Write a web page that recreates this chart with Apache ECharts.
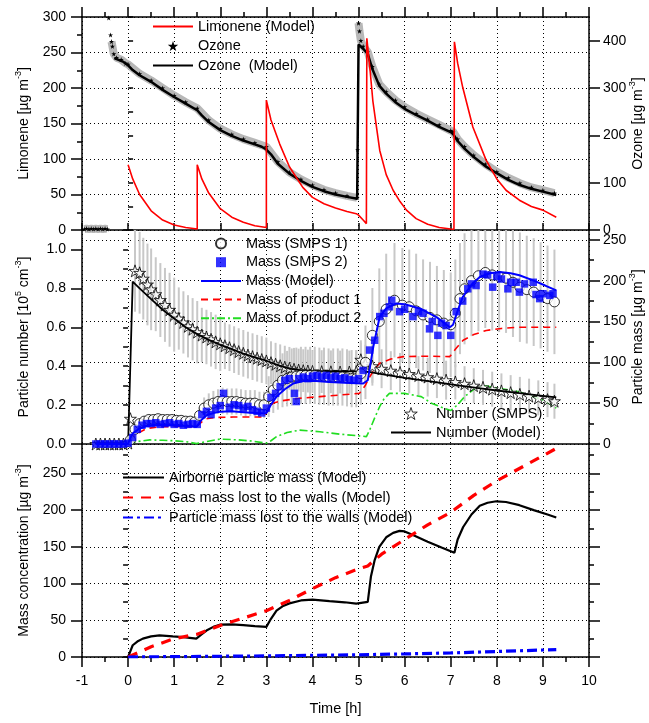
<!DOCTYPE html>
<html>
<head>
<meta charset="utf-8">
<script src="https://cdn.jsdelivr.net/npm/echarts@6/dist/echarts.min.js"></script>
<style>html,body{margin:0;padding:0;background:#fff}#c{width:649px;height:723px}</style>
</head>
<body>
<div id="c"></div>
<script>
// ---------------- DATA ----------------
const xTicks = [-1,0,1,2,3,4,5,6,7,8,9,10];

// Panel 1 : limonene model (µg m-3, left axis)
const limoneneModel = [
[0,92],[0.1,72],[0.25,50],[0.5,27],[0.75,14],[1.0,7],[1.25,3.5],[1.5,1.5],
[1.5,92],[1.6,72],[1.75,52],[2.0,30],[2.25,18],[2.5,11],[2.75,6],[3.0,3.5],
[3.0,183],[3.1,155],[3.29,121],[3.5,89],[3.79,60],[4.0,46],[4.25,37],[4.5,31],[4.75,26],[4.95,23],[5.0,21],[5.1,14],[5.17,9],
[5.18,270],[5.25,225],[5.31,182],[5.4,140],[5.46,112],[5.6,78],[5.75,56],[5.9,40],[6.04,28],[6.25,16],[6.5,8],[6.75,3.5],[7.0,1.5],[7.07,1],
[7.08,265],[7.15,235],[7.26,201],[7.48,145],[7.77,98],[8.0,72],[8.2,56],[8.49,42],[8.75,33],[9.0,28],[9.29,18]
];
// Panel 1 : ozone model (µg m-3, right axis)
const ozoneModel = [
[-0.3,363],[-0.1,355],[0,348],[0.1,338],[0.25,327],[0.5,313],[0.75,296],[1.0,281],[1.25,267],[1.5,253],
[1.6,242],[1.75,228],[2.0,211],[2.25,199],[2.5,189],[2.75,181],[2.9,176],[3.0,170],[3.1,160],[3.25,140],[3.5,119],
[3.75,104],[4.0,91],[4.25,82],[4.5,75],[4.75,70],[4.97,66],[5.0,392],[5.1,383],[5.2,372],[5.3,340],[5.45,305],
[5.6,288],[5.8,270],[6.0,256],[6.25,243],[6.5,231],[6.75,218],[7.0,207],[7.05,203],[7.15,188],[7.3,172],[7.5,154],
[7.75,135],[8.0,120],[8.25,106],[8.5,95],[8.75,87],[9.0,81],[9.29,74]
];
// Panel 1 : ozone measurements (segments)
const ozoneMeasPre = [[-0.95,2],[-0.9,3],[-0.85,2],[-0.8,3],[-0.75,2],[-0.7,3],[-0.65,2],[-0.6,3],[-0.55,2],[-0.5,3],[-0.45,2]];
const ozoneMeasStart = [[-0.42,448],[-0.38,412]];
const ozoneMeasA = [[-0.36,398],[-0.34,388],[-0.31,372],[-0.25,364],[-0.15,360],[-0.05,352],[0,350],
[0.25,330],[0.5,316],[0.75,300],[1.0,284],[1.25,270],[1.5,257],[1.75,232],[2.0,214],[2.25,202],[2.5,192],[2.75,184],
[3.0,176],[3.25,144],[3.5,122],[3.75,107],[4.0,95],[4.25,85],[4.5,78],[4.75,72],[4.97,68]];
const ozoneMeasJump = [[4.98,170]];
const ozoneMeasB = [[5.0,437],[5.02,420],[5.05,400],[5.1,388],[5.2,376],[5.3,345],[5.45,308],[5.6,292],[5.8,274],[6.0,260],
[6.25,246],[6.5,234],[6.75,222],[7.0,210],[7.05,208],[7.15,192],[7.3,176],[7.5,158],[7.75,139],[8.0,123],[8.25,110],
[8.5,99],[8.75,90],[9.0,84],[9.25,78]];

// Panel 2 : particle number (10^5 cm-3): [time, value, error half-width]
const numberSMPS = [
[-0.7,0,0],[-0.6,0,0],[-0.5,0,0],[-0.4,0,0],[-0.3,0,0],[-0.2,0,0],[-0.1,0,0],[0,0.005,0],[0.05,0.13,0],
[0.15,0.89,0.21],[0.25,0.88,0.21],[0.33,0.85,0.21],[0.42,0.82,0.21],[0.5,0.795,0.21],[0.6,0.77,0.19],[0.7,0.74,0.19],
[0.8,0.715,0.19],[0.9,0.69,0.19],[1.0,0.665,0.19],[1.1,0.645,0.16],[1.2,0.625,0.16],[1.3,0.605,0.16],[1.4,0.59,0.16],
[1.5,0.575,0.16],[1.6,0.56,0.14],[1.7,0.55,0.14],[1.8,0.538,0.14],[1.9,0.525,0.14],[2.0,0.515,0.14],[2.1,0.505,0.12],
[2.2,0.495,0.12],[2.3,0.485,0.12],[2.4,0.475,0.12],[2.5,0.466,0.12],[2.6,0.457,0.12],[2.7,0.449,0.12],[2.8,0.441,0.12],
[2.9,0.434,0.12],[3.0,0.427,0.12],[3.1,0.418,0.11],[3.2,0.41,0.11],[3.3,0.402,0.11],[3.4,0.395,0.11],[3.5,0.389,0.11],
[3.6,0.384,0.11],[3.7,0.38,0.11],[3.8,0.377,0.11],[3.9,0.375,0.11],[4.0,0.373,0.11],[4.2,0.372,0.11],[4.4,0.371,0.11],
[4.6,0.37,0.11],[4.8,0.37,0.11],[4.95,0.372,0.11],[5.05,0.433,0.1],[5.15,0.41,0.1],[5.3,0.4,0.1],[5.5,0.387,0.1],
[5.7,0.377,0.1],[5.9,0.368,0.1],[6.1,0.36,0.1],[6.3,0.352,0.1],[6.5,0.344,0.1],[6.7,0.336,0.1],[6.9,0.328,0.1],
[7.1,0.319,0.09],[7.3,0.31,0.09],[7.5,0.3,0.09],[7.7,0.291,0.09],[7.9,0.282,0.09],[8.1,0.273,0.09],[8.3,0.264,0.09],
[8.5,0.255,0.09],[8.7,0.246,0.09],[8.9,0.237,0.09],[9.1,0.228,0.09],[9.25,0.22,0.09]
];
const numberModel = [
[-0.7,0],[0,0],[0.1,0.835],[0.25,0.8],[0.5,0.745],[0.75,0.69],[1.0,0.645],[1.25,0.6],[1.5,0.565],[1.75,0.535],
[2.0,0.51],[2.25,0.488],[2.5,0.465],[2.75,0.445],[3.0,0.428],[3.25,0.405],[3.5,0.388],[3.75,0.378],[4.0,0.375],
[4.5,0.374],[5.0,0.373],[5.25,0.37],[5.6,0.355],[6.0,0.34],[6.4,0.327],[6.83,0.313],[7.2,0.3],[7.6,0.287],
[8.0,0.275],[8.49,0.261],[8.9,0.25],[9.29,0.24]
];
// Panel 2 : particle mass (µg m-3): SMPS 1 [time, value, error half-width]
const massSMPS1 = [
[0.05,5,2],[0.15,18,4],[0.25,25,5],[0.35,28,6],[0.45,30,6],[0.55,30,6],[0.65,31,6],[0.75,30,6],[0.85,30,6],[0.95,30,6],
[1.05,29,6],[1.15,29,6],[1.25,28,6],[1.35,28,6],[1.45,27,6],[1.55,35,10],[1.65,44,13],[1.75,48,14],[1.85,50,15],
[1.95,52,15],[2.05,53,16],[2.15,52,16],[2.25,52,16],[2.35,52,16],[2.45,51,16],[2.55,50,16],[2.65,50,16],[2.75,50,16],
[2.85,48,16],[2.95,48,16],[3.05,58,25],[3.15,66,28],[3.25,72,30],[3.35,78,33],[3.45,80,34],[3.55,82,35],[3.65,83,35],
[3.75,84,35],[3.85,84,35],[3.95,84,35],[4.05,84,35],[4.15,83,35],[4.25,83,35],[4.35,82,35],[4.45,82,35],[4.55,82,35],
[4.65,82,35],[4.75,81,35],[4.85,80,35],[4.95,80,35],[5.05,86,38],[5.15,100,45],[5.3,133,58],[5.45,150,65],[5.6,165,68],
[5.78,176,70],[5.95,170,70],[6.1,168,70],[6.25,163,70],[6.4,158,68],[6.55,155,68],[6.7,152,66],[6.85,148,65],
[7.0,146,64],[7.1,160,66],[7.2,178,68],[7.3,190,68],[7.45,200,68],[7.6,206,68],[7.75,210,68],[7.9,207,68],
[8.05,205,68],[8.2,203,67],[8.35,198,67],[8.5,192,67],[8.65,189,66],[8.8,186,66],[8.95,182,65],[9.1,178,65],[9.25,174,64]
];
const massSMPS2 = [
[-0.7,0],[-0.6,0],[-0.5,0],[-0.4,0],[-0.3,0],[-0.2,0],[-0.1,0],[0,1],
[0.1,8],[0.2,18],[0.3,23],[0.4,25],[0.5,25],[0.6,26],[0.7,24],[0.8,25],[0.9,26],[1.0,24],[1.1,25],[1.2,23],[1.3,24],[1.4,25],[1.5,24],
[1.6,36],[1.7,40],[1.8,36],[1.9,44],[2.0,47],[2.07,62],[2.2,45],[2.3,48],[2.4,47],[2.5,44],[2.6,46],[2.7,42],[2.8,40],[2.9,38],[3.0,44],
[3.1,57],[3.2,62],[3.3,70],[3.4,78],[3.5,80],[3.61,62],[3.65,52],[3.7,80],[3.8,82],[3.9,80],[4.0,83],[4.1,84],[4.2,82],[4.3,84],
[4.4,81],[4.5,83],[4.6,80],[4.7,81],[4.8,79],[4.9,78],[5.0,80],
[5.1,90],[5.24,115],[5.35,127],[5.46,156],[5.55,160],[5.67,168],[5.72,176],[5.89,162],[6.0,165],[6.18,156],[6.3,162],[6.4,160],
[6.54,141],[6.6,150],[6.72,133],[6.8,148],[6.9,145],[7.0,133],
[7.12,162],[7.26,175],[7.37,190],[7.45,196],[7.55,194],[7.7,208],[7.8,207],[7.91,192],[8.0,205],[8.1,202],[8.24,190],[8.3,198],
[8.42,198],[8.49,186],[8.6,196],[8.79,198],[8.85,183],[8.93,178],[9.0,184],[9.15,182],[9.22,184]
];
const massModel = [
[-0.7,0],[0,0],[0.03,5],[0.1,13],[0.25,19],[0.4,22],[0.54,23],[0.8,23.5],[1.0,23],[1.25,22],[1.48,21],
[1.6,30],[1.7,35],[1.85,38],[1.99,39.5],[2.25,40],[2.5,39],[2.85,37.5],[3.0,38],[3.1,48],[3.22,58],[3.4,67],
[3.58,74],[3.8,77],[4.0,77.5],[4.37,76],[4.7,75],[5.1,74],[5.2,78],[5.32,119],[5.46,156],[5.6,166],[5.82,172],
[6.0,171],[6.33,166],[6.7,155],[6.98,143],[7.05,146],[7.15,163],[7.26,180],[7.45,195],[7.63,204.5],[7.85,209],
[8.06,210.6],[8.3,209],[8.49,206.6],[8.8,200],[9.05,194],[9.29,188]
];
const massProduct1 = [
[-0.7,0],[0,0],[0.03,4],[0.15,11],[0.4,19],[0.7,21],[1.0,21.5],[1.48,21],[1.6,27],[1.7,31],[1.9,32.5],[2.28,33],
[2.6,33],[2.93,33],[3.05,42],[3.14,50],[3.35,53],[3.72,56],[4.16,58],[4.6,60],[5.02,62],[5.15,72],[5.24,82],[5.35,92],
[5.46,99],[5.7,104],[5.97,107],[6.5,107.5],[6.98,107],[7.1,116],[7.27,127],[7.5,134],[7.77,139],[8.1,141.5],[8.49,143],[9.29,143]
];
const massProduct2 = [
[-0.7,0],[0,0],[0.2,3],[0.47,5],[0.75,4.5],[1.0,4],[1.3,2.5],[1.48,0.5],[1.7,3],[1.99,6],[2.4,5],[2.7,3.5],[3.0,1],
[3.1,4],[3.22,9],[3.45,14],[3.72,17],[4.16,15],[4.6,12],[5.0,10],[5.17,9],[5.24,17],[5.35,32],[5.46,46],[5.55,55],
[5.67,62],[5.85,62],[6.0,62],[6.36,58],[6.58,50],[6.8,45],[7.0,41],[7.15,48],[7.3,58],[7.55,69],[7.77,71],[8.06,68],
[8.4,65],[8.64,61],[9.0,54],[9.29,44]
];

// Panel 3 : mass concentrations (µg m-3)
const airborneMass = [
[0,0],[0.05,8],[0.1,16],[0.2,21],[0.32,25],[0.5,28],[0.68,29.5],[0.97,28],[1.2,27],[1.48,25],[1.6,31],[1.7,36],
[1.85,41],[1.99,44],[2.25,44.5],[2.5,43.5],[2.75,42],[3.0,41],[3.1,52],[3.22,63],[3.35,69],[3.5,73],[3.75,77],
[4.0,78],[4.37,76],[4.7,74.5],[4.95,72.7],[5.2,75],[5.27,110],[5.35,132],[5.45,150],[5.6,163],[5.75,169],[5.89,171.7],
[6.0,171],[6.18,166],[6.5,157],[6.8,149],[7.08,142],[7.15,160],[7.27,177],[7.45,194],[7.63,206],[7.8,210],[7.99,212],
[8.2,211],[8.49,206.7],[8.8,200],[9.1,194],[9.29,190]
];
const gasWallLoss = [
[0,0],[0.5,14],[1.0,25],[1.5,31],[2.0,43],[2.5,53],[3.0,63],[3.5,77],[4.0,93],[4.5,108],[5.0,120],[5.2,124],
[5.5,140],[6.0,160],[6.5,180],[7.0,197],[7.5,220],[8.0,240],[8.5,257],[9.0,274],[9.29,284]
];
const particleWallLoss = [
[0,0],[1,0.5],[2,1],[3,1.5],[4,2.3],[5,3],[6,4.2],[7,5.5],[8,7.5],[9,9.5],[9.29,10]
];

// ---------------- CHART ----------------
const FONT = 'Liberation Sans, Arial, Helvetica, sans-serif';
const STAR = 'path://M50,2 L61.8,38 L99,38 L69,60 L80.5,96 L50,74 L19.5,96 L31,60 L1,38 L38.2,38 Z';
const SQUARE = 'path://M0,0 L10,0 L10,10 L0,10 Z';
const BLACK = '#000';
const dotted = {show:true, lineStyle:{color:BLACK, type:[1,3], width:1}};
const axLine = {show:true, onZero:false, lineStyle:{color:BLACK, width:1.5}};
const richName = {
  n:{fontSize:14, fontFamily:FONT, color:BLACK, lineHeight:17, verticalAlign:'bottom'},
  s:{fontSize:9, fontFamily:FONT, color:BLACK, lineHeight:9, verticalAlign:'top'}
};
function nameStyle(){ return {fontSize:14, fontFamily:FONT, color:BLACK, rich:richName}; }
const lbl = {color:BLACK, fontSize:14, fontFamily:FONT};
const noSym = {color:'rgba(0,0,0,0)', borderWidth:0, opacity:0};
function lineItem(name){ return {name:name, itemStyle:noSym}; }
const legendText = {fontSize:14.5, color:BLACK, fontFamily:FONT};

function xAx(grid, opts){
  return Object.assign({type:'value', gridIndex:grid, min:-1, max:10, interval:1,
    axisLine:axLine, axisTick:{show:false}, axisLabel:{show:false}, splitLine:{show:false}}, opts);
}
function yAx(grid, pos, min, max, interval, opts){
  return Object.assign({type:'value', gridIndex:grid, position:pos, min:min, max:max, interval:interval,
    axisLine:axLine, axisTick:{show:true, inside:false, length:11, lineStyle:{color:BLACK, width:1.5}},
    axisLabel:{show:false}, splitLine:{show:false}, nameMoveOverlap:false}, opts);
}
function minorY(grid, pos, max, interval){
  return yAx(grid, pos, 0, max, interval, {axisLine:{show:false}, axisTick:{show:true, length:5, lineStyle:{color:BLACK, width:1.5}}});
}
const lblL = Object.assign({show:true, margin:16}, lbl);
const lblR = Object.assign({show:true, margin:14, showMaxLabel:false}, lbl);

const errRender = function(color){
  return function(params, api){
    const a = api.coord([api.value(0), api.value(1)]);
    const b = api.coord([api.value(0), api.value(2)]);
    return {type:'line', shape:{x1:a[0], y1:a[1], x2:b[0], y2:b[1]}, style:{stroke:color, lineWidth:2}};
  };
};
const gap = [['-','-']];
const ozoneMeas = ozoneMeasPre.concat(gap, ozoneMeasStart.slice(0,1), gap, ozoneMeasStart.slice(1), gap, ozoneMeasA, gap, ozoneMeasJump, gap, ozoneMeasB);

const gridBase = {left:82, right:60, outerBoundsMode:'none', containLabel:false};
const option = {
  animation:false,
  backgroundColor:'#fff',
  textStyle:{fontFamily:FONT},
  grid:[
    Object.assign({top:17, height:213}, gridBase),
    Object.assign({top:230, height:214}, gridBase),
    Object.assign({top:444, height:213}, gridBase)
  ],
  legend:[
    {left:152, top:19, padding:0, orient:'vertical', itemWidth:40, itemHeight:10, itemGap:4.5, selectedMode:false,
     textStyle:legendText,
     data:[lineItem('Limonene (Model)'), {name:'Ozone', icon:STAR}, lineItem('Ozone  (Model)')]},
    {left:200, top:236, padding:0, orient:'vertical', itemWidth:40, itemHeight:10, itemGap:3.7, selectedMode:false,
     textStyle:legendText,
     data:['Mass (SMPS 1)', {name:'Mass (SMPS 2)', icon:SQUARE}, lineItem('Mass (Model)'), lineItem('Mass of product 1'), lineItem('Mass of product 2')]},
    {left:390, top:406, padding:0, orient:'vertical', itemWidth:40, itemHeight:12, itemGap:4, selectedMode:false,
     textStyle:legendText,
     data:[{name:'Number (SMPS)', icon:STAR, itemStyle:{color:'#fff', borderColor:BLACK, borderWidth:1}}, lineItem('Number (Model)')]},
    {left:122, top:470, padding:0, orient:'vertical', itemWidth:41, itemHeight:10, itemGap:5, selectedMode:false,
     textStyle:legendText,
     data:[lineItem('Airborne particle mass (Model)'), lineItem('Gas mass lost to the walls (Model)'), lineItem('Particle mass lost to the walls (Model)')]}
  ],
  xAxis:[
    xAx(0, {position:'bottom', axisTick:{show:true, inside:true, length:7, lineStyle:{color:BLACK, width:1.5}}, splitLine:dotted}),
    xAx(0, {position:'top', axisTick:{show:true, length:10, lineStyle:{color:BLACK, width:1.5}},
            minorTick:{show:true, splitNumber:2, length:5, lineStyle:{color:BLACK, width:1.5}}}),
    xAx(1, {position:'bottom', splitLine:dotted}),
    xAx(2, {position:'bottom', splitLine:dotted, nameMoveOverlap:false,
            axisTick:{show:true, length:10, lineStyle:{color:BLACK, width:1.5}},
            minorTick:{show:true, splitNumber:2, length:5, lineStyle:{color:BLACK, width:1.5}},
            axisLabel:Object.assign({show:true, margin:17}, lbl),
            name:'Time [h]', nameLocation:'middle', nameGap:44, nameTextStyle:{fontSize:14.5, color:BLACK, fontFamily:FONT}})
  ],
  yAxis:[
    yAx(0,'left',0,300,50,{axisLabel:lblL, splitLine:dotted,
      minorTick:{show:true, splitNumber:2, length:5, lineStyle:{color:BLACK, width:1.5}},
      name:'{n|Limonene [µg m}{s|-3}{n|]}', nameLocation:'middle', nameGap:51, nameTextStyle:nameStyle()}),
    yAx(0,'right',0,450,100,{axisLabel:lblR,
      name:'{n|Ozone [µg m}{s|-3}{n|]}', nameLocation:'middle', nameGap:39, nameTextStyle:nameStyle()}),
    minorY(0,'right',450,50),
    yAx(1,'left',0,1.1,0.2,{axisLabel:Object.assign({}, lblL, {showMaxLabel:false,
      formatter:function(v){return v.toFixed(1);}}),
      name:'{n|Particle number [10}{s|5}{n| cm}{s|-3}{n|]}', nameLocation:'middle', nameGap:51, nameTextStyle:nameStyle()}),
    minorY(1,'left',1.1,0.1),
    yAx(1,'right',0,262,50,{axisLabel:lblR, splitLine:dotted,
      name:'{n|Particle mass [µg m}{s|-3}{n|]}', nameLocation:'middle', nameGap:39, nameTextStyle:nameStyle()}),
    minorY(1,'right',262,25),
    yAx(2,'left',0,290,50,{axisLabel:Object.assign({}, lblL, {showMaxLabel:false}), splitLine:dotted,
      name:'{n|Mass concentration [µg m}{s|-3}{n|]}', nameLocation:'middle', nameGap:51, nameTextStyle:nameStyle()}),
    minorY(2,'left',290,25),
    yAx(2,'right',0,290,50,{}),
    minorY(2,'right',290,25)
  ],
  series:[
    // ---- panel 1
    {name:'Ozone', type:'line', xAxisIndex:0, yAxisIndex:1, data:ozoneMeas, connectNulls:false,
     color:BLACK, lineStyle:{color:'#b8b8b8', width:8}, symbol:STAR, symbolSize:5, showSymbol:true,
     itemStyle:{color:BLACK}, z:2},
    {name:'Ozone  (Model)', type:'line', xAxisIndex:0, yAxisIndex:1, data:ozoneModel, symbol:'none',
     color:BLACK, lineStyle:{color:BLACK, width:2.5}, z:3},
    {name:'Limonene (Model)', type:'line', xAxisIndex:0, yAxisIndex:0, data:limoneneModel, symbol:'none',
     color:'#ff0000', lineStyle:{color:'#ff0000', width:1.6}, z:4},
    // ---- panel 2
    {name:'errMass', type:'custom', xAxisIndex:2, yAxisIndex:5, clip:true, silent:true, z:1,
     data:massSMPS1.map(function(p){return [p[0], p[1]-p[2], p[1]+p[2]];}), renderItem:errRender('#c8c8c8')},
    {name:'errNum', type:'custom', xAxisIndex:2, yAxisIndex:3, clip:true, silent:true, z:1,
     data:numberSMPS.filter(function(p){return p[2]>0;}).map(function(p){return [p[0], p[1]-p[2], p[1]+p[2]];}),
     renderItem:errRender('#c8c8c8')},
    {name:'Mass of product 2', type:'line', xAxisIndex:2, yAxisIndex:5, data:massProduct2, symbol:'none',
     color:'#22dd22', lineStyle:{color:'#22dd22', width:1.6, type:[8,3,2,3]}, z:3},
    {name:'Mass of product 1', type:'line', xAxisIndex:2, yAxisIndex:5, data:massProduct1, symbol:'none',
     color:'#ff0000', lineStyle:{color:'#ff0000', width:1.6, type:[7,5]}, z:3},
    {name:'Number (SMPS)', type:'scatter', xAxisIndex:2, yAxisIndex:3, data:numberSMPS, encode:{x:0, y:1},
     symbol:STAR, symbolSize:12, itemStyle:{color:'#fff', borderColor:BLACK, borderWidth:1}, z:4},
    {name:'Number (Model)', type:'line', xAxisIndex:2, yAxisIndex:3, data:numberModel, symbol:'none',
     color:BLACK, lineStyle:{color:BLACK, width:1.8}, z:5},
    {name:'Mass (SMPS 1)', type:'scatter', xAxisIndex:2, yAxisIndex:5, data:massSMPS1, encode:{x:0, y:1},
     symbol:'circle', symbolSize:10, itemStyle:{color:'#fff', borderColor:BLACK, borderWidth:1}, z:5},
    {name:'Mass (SMPS 2)', type:'scatter', xAxisIndex:2, yAxisIndex:5, data:massSMPS2,
     symbol:'rect', symbolSize:7.5, itemStyle:{color:'#0000ff'}, z:6},
    {name:'Mass (Model)', type:'line', xAxisIndex:2, yAxisIndex:5, data:massModel, symbol:'none',
     color:'#0000ff', lineStyle:{color:'#0000ff', width:2}, z:7},
    // ---- panel 3
    {name:'Airborne particle mass (Model)', type:'line', xAxisIndex:3, yAxisIndex:7, data:airborneMass, symbol:'none',
     color:BLACK, lineStyle:{color:BLACK, width:2.2}, z:3},
    {name:'Gas mass lost to the walls (Model)', type:'line', xAxisIndex:3, yAxisIndex:7, data:gasWallLoss, symbol:'none',
     color:'#ff0000', lineStyle:{color:'#ff0000', width:3.2, type:[10,8]}, z:3},
    {name:'Particle mass lost to the walls (Model)', type:'line', xAxisIndex:3, yAxisIndex:7, data:particleWallLoss, symbol:'none',
     color:'#0000ff', lineStyle:{color:'#0000ff', width:3.2, type:[10,4,3,4]}, z:3}
  ]
};
const chart = echarts.init(document.getElementById('c'), null, {renderer:'canvas'});
chart.setOption(option);
</script>
</body>
</html>
